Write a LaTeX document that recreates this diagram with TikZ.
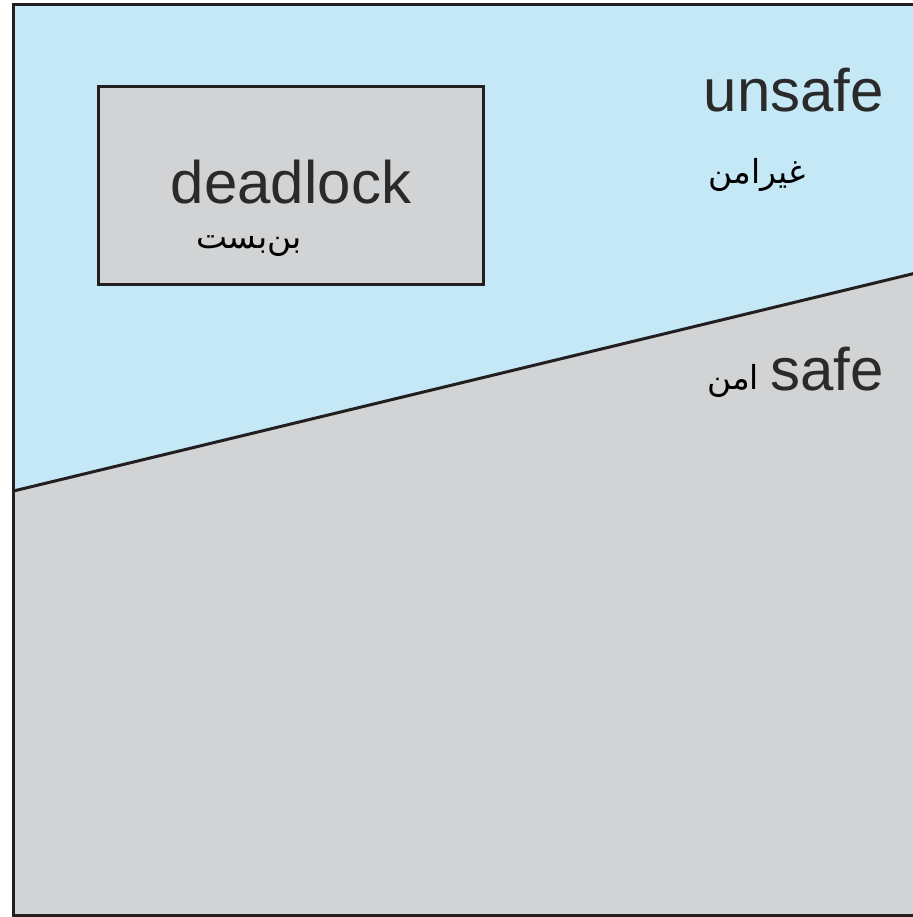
\documentclass[tikz,border=0pt]{standalone}
\usepackage{fontspec}
\setmainfont{Liberation Sans}
\newfontfamily\arabicfont[Script=Arabic]{DejaVu Sans}
\TeXXeTstate=1
\definecolor{skyfill}{HTML}{C5E8F7}
\definecolor{grayfill}{HTML}{D1D3D4}
\definecolor{inkline}{HTML}{231F20}
\definecolor{inktext}{HTML}{2A2A2A}
\begin{document}
\begin{tikzpicture}[x=1pt,y=-1pt,
  frameline/.style={draw=inkline, line width=3pt},
  latinlabel/.style={font=\fontsize{60}{72}\selectfont, text=inktext, inner sep=0pt},
  arablabel/.style={font=\arabicfont\fontsize{33}{40}\selectfont, text=black, inner sep=0pt}]
\useasboundingbox (0,0) rectangle (912,917);
% regions
\coordinate (tl) at (13.5,4.5);
\coordinate (tr) at (916,4.5);
\coordinate (br) at (916,915);
\coordinate (bl) at (13.5,915);
\coordinate (lineL) at (13.5,491);
\coordinate (lineR) at (916,273);
\fill[skyfill] (tl) rectangle (br);
\fill[grayfill] (lineL) -- (lineR) -- (br) -- (bl) -- cycle;
\draw[frameline] (lineL) -- (lineR);
\draw[frameline] (tl) rectangle (br);
% deadlock box
\node[frameline, fill=grayfill, minimum width=385pt, minimum height=197pt, inner sep=0pt] (box) at (290.5,185.5) {};
\node[latinlabel, anchor=base] (dl) at (291,204) {deadlock};
\node[arablabel] (dlar) at (249,246) {\beginR بن‌بست\endR};
% labels
\node[latinlabel, anchor=base east] (unsafe) at (884,112) {unsafe};
\node[arablabel] (unsafear) at (757,175) {\beginR غیرامن\endR};
\node[latinlabel, anchor=base east] (safe) at (884,390) {safe};
\node[arablabel] (safear) at (733,381) {\beginR امن\endR};
\end{tikzpicture}
\end{document}
